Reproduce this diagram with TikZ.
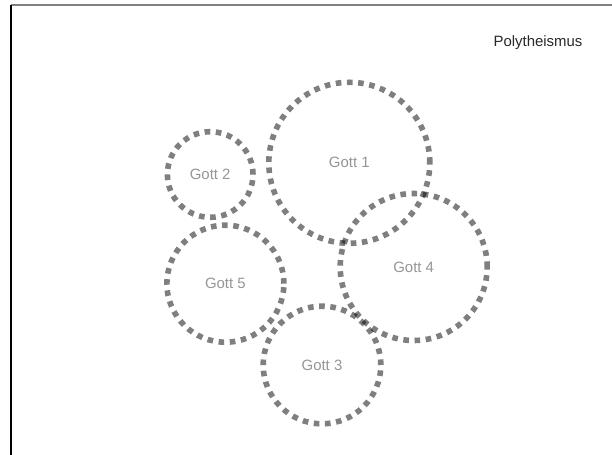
\documentclass[tikz,border=0pt]{standalone}
\usepackage{fontspec}
\setmainfont{Liberation Sans}
\begin{document}
\begin{tikzpicture}[x=1bp,y=-1bp,
  gott/.style={circle, draw=black, draw opacity=0.5, line width=5.6bp,
    dash pattern=on 5.6bp off 5.6bp, inner sep=0pt, minimum size=#1,
    text={rgb,255:red,150;green,150;blue,150},
    font=\fontsize{15}{18}\selectfont},
  title/.style={text={rgb,255:red,40;green,40;blue,40}, font=\fontsize{15}{18}\selectfont, inner sep=0pt}]
\useasboundingbox (0,0) rectangle (612,455);
\fill[white] (0,0) rectangle (612,455);
\coordinate (tl) at (11,5);
\coordinate (tr) at (612,5);
\coordinate (bl) at (11,455);
\draw[line width=1.7bp, color={rgb,255:red,128;green,128;blue,128}] (tl) -- (tr);
\draw[line width=1.4bp, black] (tl) -- (bl);
\node[title] (poly) at (538,43) {Polytheismus};
\node[gott=161bp] (g1) at (349.3,162.8) {Gott 1};
\node[gott=85.6bp] (g2) at (210.2,174.5) {Gott 2};
\node[gott=117bp] (g5) at (225.4,283.7) {Gott 5};
\node[gott=147bp] (g4) at (413.7,267) {Gott 4};
\node[gott=117.6bp] (g3) at (322,365) {Gott 3};
\end{tikzpicture}
\end{document}
